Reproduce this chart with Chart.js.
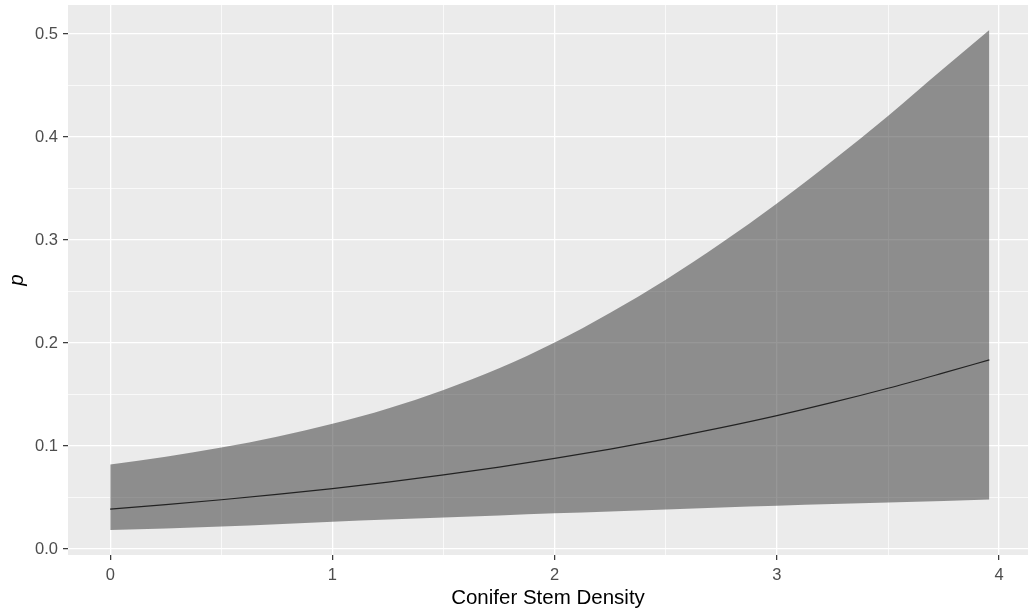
<!DOCTYPE html>
<html>
<head>
<meta charset="utf-8">
<script src="https://cdn.jsdelivr.net/npm/chart.js@4"></script>
<style>
  body { margin: 0; background: #fff; }
  #wrap { width: 1028px; height: 615px; }
</style>
</head>
<body>
<div id="wrap"><canvas id="myChart" width="1028" height="615"></canvas></div>
<script>
// values
const stemDensity = [0, 0.25, 0.5, 0.75, 1, 1.25, 1.5, 1.75, 2, 2.25, 2.5, 2.75, 3, 3.25, 3.5, 3.75, 3.956];
const pMean  = [0.0388, 0.0431, 0.0478, 0.0530, 0.0587, 0.0650, 0.0719, 0.0795, 0.0879, 0.0970, 0.1069, 0.1178, 0.1295, 0.1423, 0.1561, 0.1710, 0.1836];
const pUpper = [0.082, 0.0895, 0.0985, 0.109, 0.1215, 0.1365, 0.1545, 0.1755, 0.2005, 0.2295, 0.2615, 0.297, 0.3355, 0.377, 0.4205, 0.4665, 0.504];
const pLower = [0.0185, 0.0200, 0.0218, 0.0240, 0.0265, 0.0286, 0.0306, 0.0326, 0.0346, 0.0365, 0.0384, 0.0402, 0.0419, 0.0436, 0.0452, 0.0467, 0.0481];

const xMajorTicks = [0, 1, 2, 3, 4];
const xMinorTicks = [0.5, 1.5, 2.5, 3.5];
const yMajorTicks = [0, 0.1, 0.2, 0.3, 0.4, 0.5];
const yMinorTicks = [0.05, 0.15, 0.25, 0.35, 0.45];
const xTickLabels = ['0', '1', '2', '3', '4'];
const yTickLabels = ['0.0', '0.1', '0.2', '0.3', '0.4', '0.5'];

const toPoints = ys => stemDensity.map((x, i) => ({ x: x, y: ys[i] }));

function isMajor(list, v) {
    return list.some(m => Math.abs(m - v) < 1e-9);
}

function majorLabel(list, labels, v) {
    for (let i = 0; i < list.length; i++) {
        if (Math.abs(list[i] - v) < 1e-9) return labels[i];
    }
    return '';
}

const panelBg = {
    id: 'panelBg',
    beforeDraw: function (chart) {
        const a = chart.chartArea;
        const ctx = chart.ctx;
        ctx.save();
        ctx.fillStyle = '#EBEBEB';
        ctx.fillRect(a.left, a.top, a.right - a.left, a.bottom - a.top);
        ctx.restore();
    }
};

const tickFont = { family: "'Liberation Sans', Arial, sans-serif", size: 16.5 };
const titleFont = { family: "'Liberation Sans', Arial, sans-serif", size: 20.5 };

const ctx = document.getElementById('myChart');
const myChart = new Chart(ctx, {
    type: 'line',
    data: {
        datasets: [{
            data: toPoints(pUpper),
            fill: '+1',
            backgroundColor: 'rgba(51, 51, 51, 0.51)',
            borderWidth: 0,
            pointRadius: 0,
            cubicInterpolationMode: 'monotone'
        }, {
            data: toPoints(pLower),
            fill: false,
            borderWidth: 0,
            pointRadius: 0,
            cubicInterpolationMode: 'monotone'
        }, {
            data: toPoints(pMean),
            fill: false,
            borderColor: '#111',
            borderWidth: 1.2,
            pointRadius: 0,
            cubicInterpolationMode: 'monotone'
        }]
    },
    options: {
        responsive: false,
        animation: false,
        events: [],
        layout: { padding: { top: 5, right: 0, left: 0, bottom: 0 } },
        plugins: {
            legend: { display: false },
            tooltip: { enabled: false }
        },
        scales: {
            x: {
                type: 'linear',
                min: -0.19,
                max: 4.13,
                border: { display: false },
                afterBuildTicks: function (scale) {
                    scale.ticks = xMajorTicks.concat(xMinorTicks).map(v => ({ value: v }));
                },
                afterFit: function (scale) {
                    scale.height = 60;
                    scale.paddingLeft = 0;
                    scale.paddingRight = 0;
                },
                grid: {
                    color: '#fff',
                    lineWidth: c => isMajor(xMajorTicks, c.tick.value) ? 1.3 : 0.7,
                    tickColor: c => isMajor(xMajorTicks, c.tick.value) ? '#333' : 'rgba(0,0,0,0)',
                    tickLength: 5,
                    tickWidth: 1.2
                },
                ticks: {
                    autoSkip: false,
                    maxRotation: 0,
                    padding: 6,
                    color: '#4D4D4D',
                    font: tickFont,
                    callback: v => majorLabel(xMajorTicks, xTickLabels, v)
                },
                title: {
                    display: true,
                    text: 'Conifer Stem Density',
                    color: '#000',
                    font: titleFont,
                    padding: { top: 0, bottom: 4 }
                }
            },
            y: {
                type: 'linear',
                min: -0.00583,
                max: 0.5282,
                border: { display: false },
                afterBuildTicks: function (scale) {
                    scale.ticks = yMajorTicks.concat(yMinorTicks).map(v => ({ value: v }));
                },
                afterFit: function (scale) {
                    scale.width = 68;
                    scale.paddingTop = 0;
                    scale.paddingBottom = 0;
                },
                grid: {
                    color: '#fff',
                    lineWidth: c => isMajor(yMajorTicks, c.tick.value) ? 1.3 : 0.7,
                    tickColor: c => isMajor(yMajorTicks, c.tick.value) ? '#333' : 'rgba(0,0,0,0)',
                    tickLength: 5,
                    tickWidth: 1.2
                },
                ticks: {
                    autoSkip: false,
                    padding: 5,
                    color: '#4D4D4D',
                    font: tickFont,
                    callback: v => majorLabel(yMajorTicks, yTickLabels, v)
                },
                title: {
                    display: true,
                    text: 'p',
                    color: '#000',
                    font: Object.assign({ style: 'italic' }, titleFont),
                    padding: { top: 5, bottom: 0 }
                }
            }
        }
    },
    plugins: [panelBg]
});
</script>
</body>
</html>
